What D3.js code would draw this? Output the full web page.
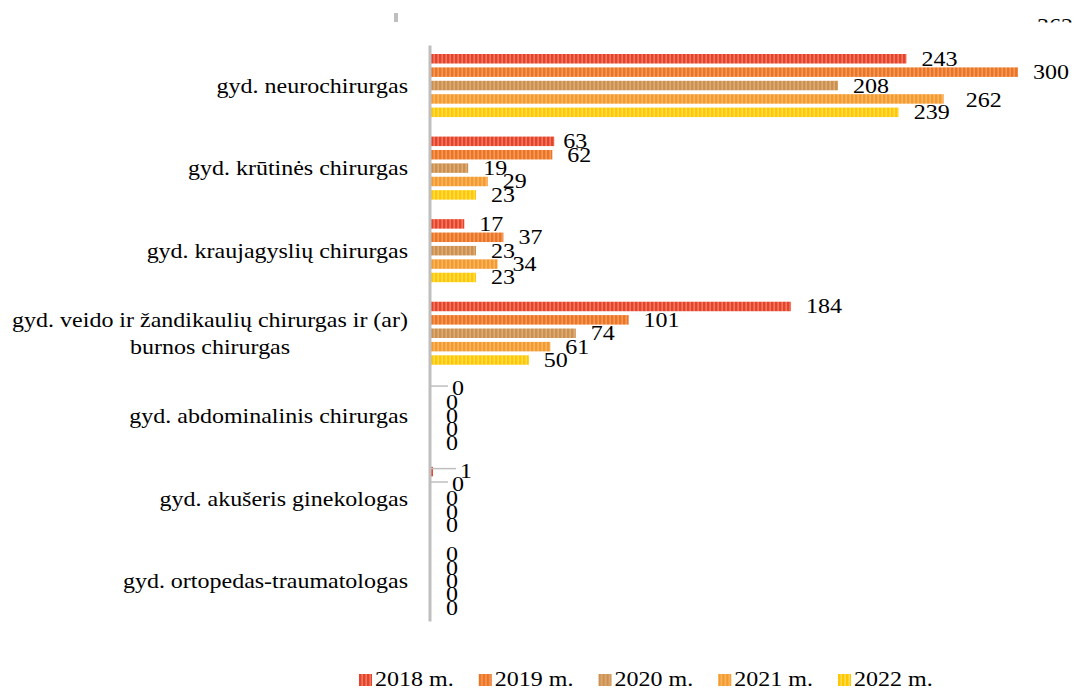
<!DOCTYPE html>
<html>
<head>
<meta charset="utf-8">
<script src="https://cdn.jsdelivr.net/npm/d3@7"></script>
<style>
  html, body { margin: 0; padding: 0; background: #fff; }
  svg { display: block; }
  text { font-family: "Liberation Serif", "Times New Roman", serif; fill: #000; }
</style>
</head>
<body>
<svg id="chart" width="1077" height="691"></svg>
<script>
// ---------- data ----------
const categories = [
  "gyd. neurochirurgas",
  "gyd. krūtinės chirurgas",
  "gyd. kraujagyslių chirurgas",
  "gyd. veido ir žandikaulių chirurgas ir (ar) burnos chirurgas",
  "gyd. abdominalinis chirurgas",
  "gyd. akušeris ginekologas",
  "gyd. ortopedas-traumatologas"
];
const categoryLines = [
  ["gyd. neurochirurgas"],
  ["gyd. krūtinės chirurgas"],
  ["gyd. kraujagyslių chirurgas"],
  ["gyd. veido ir žandikaulių chirurgas ir (ar)", "burnos chirurgas"],
  ["gyd. abdominalinis chirurgas"],
  ["gyd. akušeris ginekologas"],
  ["gyd. ortopedas-traumatologas"]
];
const seriesNames = ["2018 m.", "2019 m.", "2020 m.", "2021 m.", "2022 m."];
const values2018 = [243, 63, 17, 184, 0, 1, 0];
const values2019 = [300, 62, 37, 101, 0, 0, 0];
const values2020 = [208, 19, 23, 74, 0, 0, 0];
const values2021 = [262, 29, 34, 61, 0, 0, 0];
const values2022 = [239, 23, 23, 50, 0, 0, 0];
const seriesValues = [values2018, values2019, values2020, values2021, values2022];
const clippedTopLabel = "362";

// ---------- styles ----------
const darkColors  = ["#e5432b", "#ec7424", "#cc9050", "#f59a2e", "#ffc800"];
const lightColors = ["#f3866c", "#f4a466", "#e0b27f", "#f9bd6e", "#ffe06a"];
// label nudges [categoryIndex, seriesIndex, dx, dy, leaderLine]
const labelNudges = [
  [0, 3, 7, 1, false],
  [1, 0, -6, 0, false],
  [4, 0, 6, -1, true],
  [5, 0, 12, -1, true],
  [5, 1, 6, -1, true]
];
const FS = 20, SX = 1.2;

const svg = d3.select("#chart");
const defs = svg.append("defs");

// striped patterns
darkColors.forEach((c, i) => {
  const p = defs.append("pattern")
    .attr("id", "pat" + i)
    .attr("patternUnits", "userSpaceOnUse")
    .attr("x", 431).attr("y", 0)
    .attr("width", 4).attr("height", 20);
  p.append("rect").attr("width", 4).attr("height", 20).attr("fill", c);
  p.append("rect").attr("x", 2.5).attr("width", 1.3).attr("height", 20).attr("fill", lightColors[i]);
});

// ---------- scales ----------
const x = d3.scaleLinear().domain([0, 300]).range([431, 1018]);
const y = d3.scaleBand().domain(d3.range(categories.length)).range([45, 623]).padding(0);
const yInner = d3.scaleBand().domain(d3.range(seriesNames.length))
  .range([9, y.bandwidth() - 10.5]).paddingInner(0.29).paddingOuter(0);

// ---------- clipped remnants at the top ----------
svg.append("rect").attr("x", 394).attr("y", 13).attr("width", 4).attr("height", 9).attr("fill", "#bfbfbf");
defs.append("clipPath").attr("id", "topclip")
  .append("rect").attr("x", 0).attr("y", 0).attr("width", 1077).attr("height", 22.5);
svg.append("g").attr("clip-path", "url(#topclip)")
  .append("text")
  .attr("transform", `translate(1037,33) scale(${SX},1)`)
  .attr("font-size", FS)
  .text(clippedTopLabel);

// ---------- bars ----------
const flat = [];
seriesValues.forEach((vals, s) => vals.forEach((v, c) => flat.push({ s, c, v })));

svg.append("g").selectAll("rect")
  .data(flat)
  .join("rect")
  .attr("x", x(0))
  .attr("y", d => y(d.c) + yInner(d.s))
  .attr("width", d => x(d.v) - x(0))
  .attr("height", yInner.bandwidth())
  .attr("fill", d => `url(#pat${d.s})`);

// ---------- axis ----------
const axisG = svg.append("g").attr("transform", "translate(429.5,0)");
const axis = d3.axisLeft(d3.scaleLinear().range([45, 621])).ticks(0).tickSize(0).tickFormat("");
axisG.call(axis);
axisG.select(".domain").attr("stroke", "#bfbfbf").attr("stroke-width", 3);

// category labels
categoryLines.forEach((lines, c) => {
  const cy = y(c) + y.bandwidth() / 2;
  const n = lines.length;
  const lh = 27;
  let firstWidth = null;
  lines.forEach((ln, k) => {
    const by = cy + (k - (n - 1) / 2) * lh + 6.5;
    const t = svg.append("text")
      .attr("font-size", FS)
      .text(ln);
    if (k === 0) {
      t.attr("text-anchor", "end").attr("transform", `translate(408,${by}) scale(${SX},1)`);
      firstWidth = t.node().getComputedTextLength() * SX;
    } else {
      t.attr("text-anchor", "middle").attr("transform", `translate(${408 - firstWidth / 2},${by}) scale(${SX},1)`);
    }
  });
});

// ---------- data labels ----------
const nudgeMap = new Map(labelNudges.map(n => [n[0] + "-" + n[1], n]));
const lblG = svg.append("g");
flat.forEach(d => {
  const nd = nudgeMap.get(d.c + "-" + d.s);
  const dx = nd ? nd[2] : 0, dy = nd ? nd[3] : 0;
  const lx = x(d.v) + 15 + dx;
  const cy = y(d.c) + yInner(d.s) + yInner.bandwidth() / 2 + dy;
  if (nd && nd[4]) {
    lblG.append("line")
      .attr("x1", 431).attr("x2", lx - 4)
      .attr("y1", cy - 2).attr("y2", cy - 2)
      .attr("stroke", "#bfbfbf").attr("stroke-width", 1.5);
  }
  lblG.append("text")
    .attr("font-size", FS)
    .attr("transform", `translate(${lx},${cy + 7}) scale(${SX},1)`)
    .text(d.v);
});

// ---------- legend ----------
const legendX = d3.scalePoint().domain(d3.range(seriesNames.length)).range([359, 838]);
const lg = svg.append("g");
seriesNames.forEach((name, i) => {
  const gx = legendX(i);
  const pat = defs.append("pattern")
    .attr("id", "lpat" + i)
    .attr("patternUnits", "userSpaceOnUse")
    .attr("x", gx).attr("y", 0).attr("width", 4).attr("height", 20);
  pat.append("rect").attr("width", 4).attr("height", 20).attr("fill", darkColors[i]);
  pat.append("rect").attr("x", 2.5).attr("width", 1.3).attr("height", 20).attr("fill", lightColors[i]);
  lg.append("rect").attr("x", gx).attr("y", 674).attr("width", 13).attr("height", 12)
    .attr("fill", `url(#lpat${i})`);
  lg.append("text").attr("font-size", FS)
    .attr("transform", `translate(${gx + 16},686) scale(${SX},1)`)
    .text(name);
});
</script>
</body>
</html>
